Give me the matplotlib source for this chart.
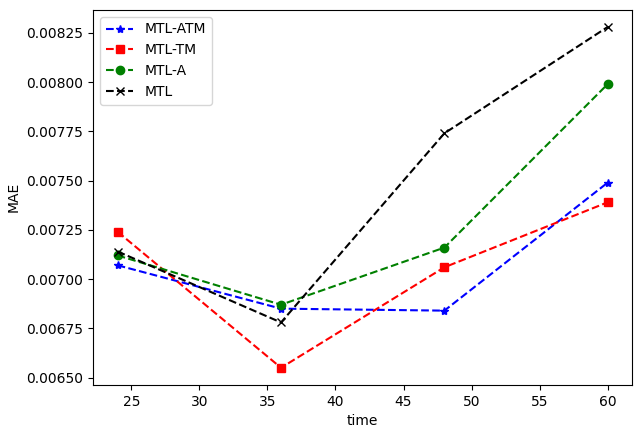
import matplotlib
matplotlib.use('Agg')
import matplotlib.pyplot as plt

time = [24, 36, 48, 60]
mtl_atm = [0.00707, 0.00685, 0.00684, 0.00749]
mtl_tm = [0.00724, 0.00655, 0.00706, 0.00739]
mtl_a = [0.00712, 0.00687, 0.00716, 0.00799]
mtl = [0.00714, 0.00678, 0.00774, 0.00828]

fig = plt.figure(figsize=(6.38, 4.29), dpi=100)
ax = fig.add_axes([0.146, 0.103, 0.845, 0.874])

ax.plot(time, mtl_atm, 'b*--', label='MTL-ATM', markersize=6)
ax.plot(time, mtl_tm, 'rs--', label='MTL-TM', markersize=6)
ax.plot(time, mtl_a, 'go--', label='MTL-A', markersize=6)
ax.plot(time, mtl, 'kx--', label='MTL', markersize=6)

ax.set_xlabel('time')
ax.set_ylabel('MAE')
ax.set_yticks([0.0065, 0.00675, 0.007, 0.00725, 0.0075, 0.00775, 0.008, 0.00825])
ax.set_yticklabels(['0.00650', '0.00675', '0.00700', '0.00725', '0.00750',
                    '0.00775', '0.00800', '0.00825'])
ax.legend(loc='upper left')

fig.savefig('out.png', dpi=100)
